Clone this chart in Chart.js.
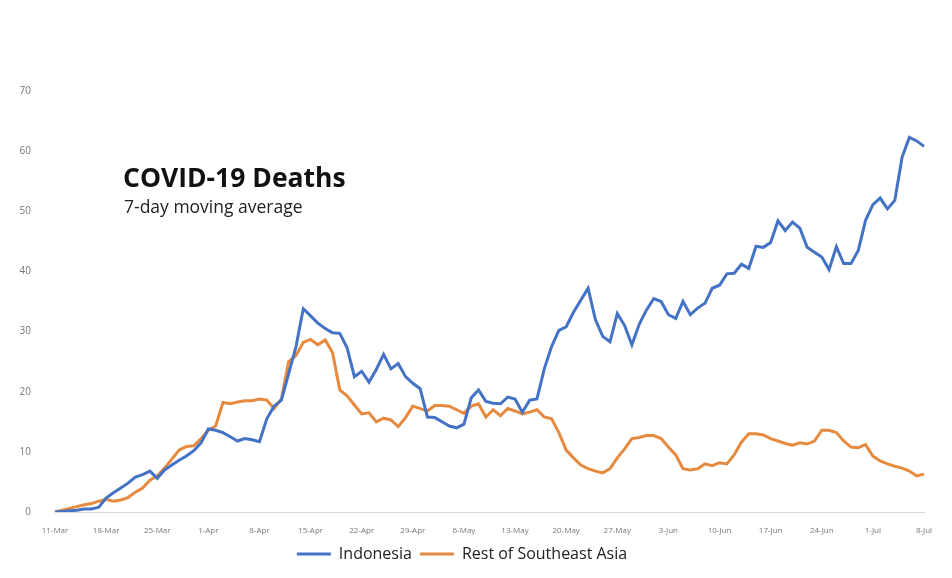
<!DOCTYPE html>
<html lang="en">
<head>
  <meta charset="UTF-8">
  <title>COVID-19 Deaths</title>
  <script src="https://cdn.jsdelivr.net/npm/chart.js"></script>
  <style>
    body {
      margin: 0;
      padding: 0;
      background: #fff;
      font-family: 'Open Sans', 'Noto Sans', sans-serif;
    }

    .wrap {
      position: relative;
      width: 952px;
      height: 578px;
    }

    .chart-title {
      position: absolute;
      left: 123px;
      top: 159px;
      font-size: 26.5px;
      font-weight: bold;
      color: #111;
    }

    .chart-subtitle {
      position: absolute;
      left: 124px;
      top: 194px;
      font-size: 17.5px;
      color: #222;
    }
  </style>
</head>
<body>
  <div class="wrap">
    <canvas id="deathsChart" width="952" height="578"></canvas>
    <div class="chart-title">COVID-19 Deaths</div>
    <div class="chart-subtitle">7-day moving average</div>
  </div>

  <script>
    // Daily 7-day averages, 11-Mar to 8-Jul
    const indonesia = [
      0, 0.1, 0.2, 0.3, 0.5, 0.5, 0.8, 2.3, 3.2, 4,
      4.8, 5.8, 6.2, 6.8, 5.6, 7, 7.8, 8.6, 9.3, 10.2,
      11.5, 13.8, 13.6, 13.2, 12.5, 11.8, 12.2, 12, 11.7, 15.5,
      17.6, 18.6, 23, 27.5, 33.8, 32.6, 31.4, 30.5, 29.8, 29.7,
      27.3, 22.5, 23.4, 21.6, 23.7, 26.2, 23.8, 24.7, 22.5, 21.4,
      20.5, 15.8, 15.7, 15, 14.3, 14, 14.6, 19, 20.3, 18.4,
      18.1, 18, 19.1, 18.8, 16.6, 18.6, 18.8, 23.8, 27.5, 30.2,
      30.8, 33.2, 35.2, 37.2, 32, 29.2, 28.3, 33, 31, 27.8,
      31.2, 33.6, 35.5, 35, 32.8, 32.2, 35, 32.8, 33.9, 34.7,
      37.2, 37.7, 39.6, 39.7, 41.2, 40.5, 44.2, 44, 44.8, 48.4,
      46.8, 48.2, 47.2, 44, 43.2, 42.4, 40.3, 44.1, 41.3, 41.3,
      43.5, 48.5, 51.1, 52.2, 50.4, 51.8, 59, 62.3, 61.7, 60.8
    ];
    const restOfSEA = [
      0, 0.3, 0.6, 0.9, 1.2, 1.4, 1.8, 2.1, 1.8, 2,
      2.4, 3.3, 4, 5.3, 6, 7.3, 8.8, 10.3, 10.9, 11,
      12.2, 13.6, 14.3, 18.2, 18, 18.3, 18.5, 18.5, 18.8, 18.6,
      17.2, 18.8, 25, 26, 28.2, 28.7, 27.8, 28.6, 26.5, 20.3,
      19.3, 17.8, 16.3, 16.5, 15, 15.6, 15.3, 14.2, 15.7, 17.6,
      17.2, 16.8, 17.7, 17.7, 17.6, 17, 16.4, 17.6, 18, 15.8,
      17, 16, 17.2, 16.8, 16.3, 16.6, 17, 15.8, 15.5, 13.2,
      10.3, 9, 7.8, 7.2, 6.8, 6.5, 7.2, 9, 10.5, 12.2,
      12.4, 12.7, 12.7, 12.2, 10.8, 9.5, 7.2, 7, 7.2, 8,
      7.7, 8.2, 8, 9.5, 11.6, 13, 13, 12.8, 12.2, 11.8,
      11.4, 11.1, 11.5, 11.3, 11.8, 13.6, 13.6, 13.2, 11.8, 10.8,
      10.7, 11.2, 9.3, 8.5, 8, 7.6, 7.3, 6.8, 6, 6.3
    ];
    const yTicks = [0, 10, 20, 30, 40, 50, 60, 70];
    const months = ['Jan', 'Feb', 'Mar', 'Apr', 'May', 'Jun', 'Jul', 'Aug', 'Sep', 'Oct', 'Nov', 'Dec'];

    // one label per day, shown every 7th day
    const days = [];
    const start = new Date(2020, 2, 11);
    for (let i = 0; i < indonesia.length; i++) {
      const d = new Date(start.getFullYear(), start.getMonth(), start.getDate() + i);
      days.push(d.getDate() + '-' + months[d.getMonth()]);
    }

    const ctx = document.getElementById('deathsChart').getContext('2d');
    new Chart(ctx, {
      type: 'line',
      data: {
        labels: days,
        datasets: [
          {
            label: 'Indonesia',
            data: indonesia,
            borderColor: '#4472C4',
            backgroundColor: '#4472C4',
            borderWidth: 3,
            pointRadius: 0,
            tension: 0
          },
          {
            label: 'Rest of Southeast Asia',
            data: restOfSEA,
            borderColor: '#E58A3F',
            backgroundColor: '#E58A3F',
            borderWidth: 3,
            pointRadius: 0,
            tension: 0
          }
        ]
      },
      options: {
        responsive: false,
        animation: false,
        layout: { padding: { top: 91, right: 28, left: 0, bottom: 6 } },
        plugins: {
          tooltip: { enabled: false },
          legend: {
            position: 'bottom',
            labels: {
              usePointStyle: true,
              pointStyle: 'line',
              pointStyleWidth: 34,
              boxHeight: 16,
              padding: 8,
              color: '#222',
              font: { family: "'Open Sans', sans-serif", size: 16 }
            }
          }
        },
        scales: {
          x: {
            grid: { display: false },
            border: { display: true, color: '#d9d9d9', width: 1 },
            ticks: {
              autoSkip: false,
              maxRotation: 0,
              color: '#777',
              padding: 6,
              font: { family: "'Open Sans', sans-serif", size: 8 },
              callback: function (value, index) {
                return index % 7 === 0 ? days[index] : null;
              }
            },
            afterFit: function (scale) { scale.height = 26; }
          },
          y: {
            min: 0,
            max: 70,
            grid: { display: false },
            border: { display: false },
            afterBuildTicks: function (scale) {
              scale.ticks = yTicks.map(v => ({ value: v }));
            },
            ticks: {
              color: '#777',
              padding: 16,
              font: { family: "'Open Sans', sans-serif", size: 10 }
            },
            afterFit: function (scale) { scale.width = 55; }
          }
        }
      }
    });
  </script>
</body>
</html>
